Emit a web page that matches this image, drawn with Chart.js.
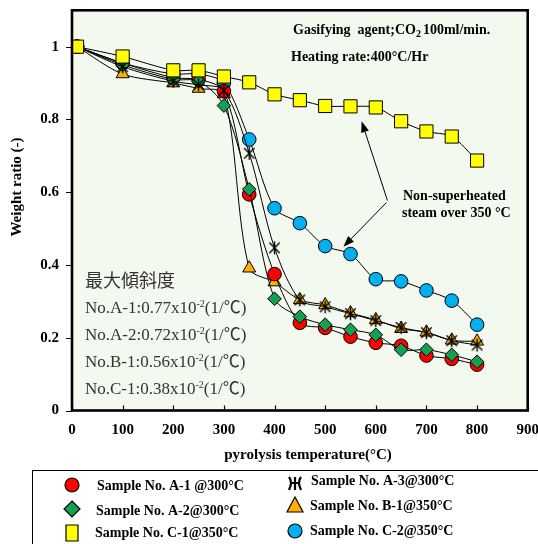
<!DOCTYPE html>
<html>
<head>
<meta charset="utf-8">
<script src="https://cdn.jsdelivr.net/npm/chart.js@4/dist/chart.umd.min.js"></script>
<style>
  html, body { margin: 0; padding: 0; background: #fff; }
  #wrap { width: 538px; height: 544px; position: relative; }
</style>
</head>
<body>
<div id="wrap"><canvas id="c" width="538" height="544"></canvas></div>
<script>
// Pyrolysis temperature (°C)
const temperatures = [10, 100, 200, 250, 300, 350, 400, 450, 500, 550, 600, 650, 700, 750, 800];

// Weight ratio (-) per sample
const sampleA1 = [1.0, 0.955, 0.915, 0.91, 0.878, 0.594, 0.375, 0.241, 0.227, 0.203, 0.186, 0.178, 0.151, 0.142, 0.126];
const sampleA2 = [1.0, 0.95, 0.91, 0.905, 0.838, 0.608, 0.307, 0.258, 0.236, 0.222, 0.208, 0.167, 0.167, 0.153, 0.134];
const sampleA3 = [1.0, 0.945, 0.905, 0.895, 0.88, 0.707, 0.447, 0.304, 0.285, 0.266, 0.247, 0.228, 0.214, 0.192, 0.18];
const sampleB1 = [1.0, 0.925, 0.9, 0.885, 0.87, 0.391, 0.353, 0.304, 0.29, 0.268, 0.249, 0.225, 0.215, 0.193, 0.19];
const sampleC1 = [1.0, 0.973, 0.935, 0.935, 0.918, 0.902, 0.869, 0.853, 0.837, 0.836, 0.833, 0.795, 0.767, 0.753, 0.687];
const sampleC2 = [1.0, 0.955, 0.925, 0.925, 0.9, 0.745, 0.556, 0.515, 0.452, 0.43, 0.361, 0.355, 0.33, 0.302, 0.236];

const seriesNames = [
  'Sample No. A-1 @300°C', 'Sample No. A-2@300°C', 'Sample No. C-1@350°C',
  'Sample No. A-3@300°C', 'Sample No. B-1@350°C', 'Sample No. C-2@350°C'
];

const xTicks = [0, 100, 200, 300, 400, 500, 600, 700, 800, 900];
const yTicks = [0, 0.2, 0.4, 0.6, 0.8, 1];

const slopeTitle = '最大傾斜度';
const slopeRows = [
  ['No.A-1:0.77x10', '-2', '(1/℃)'],
  ['No.A-2:0.72x10', '-2', '(1/℃)'],
  ['No.B-1:0.56x10', '-2', '(1/℃)'],
  ['No.C-1:0.38x10', '-2', '(1/℃)']
];

const SERIF = '"Liberation Serif", "Times New Roman", "Noto Sans CJK JP", serif';

// Asterisk-like marker (vertical bar with a cross) used for A-3
function makeStarMarker(size) {
  const cv = document.createElement('canvas');
  cv.width = size; cv.height = size;
  const g = cv.getContext('2d');
  g.strokeStyle = '#000';
  g.lineWidth = 1.4;
  const m = size / 2, r = size / 2 - 1;
  g.beginPath();
  g.moveTo(m, m - r); g.lineTo(m, m + r);
  g.moveTo(m - r * 0.8, m - r * 0.8); g.lineTo(m + r * 0.8, m + r * 0.8);
  g.moveTo(m + r * 0.8, m - r * 0.8); g.lineTo(m - r * 0.8, m + r * 0.8);
  g.stroke();
  return cv;
}
const starMarker = makeStarMarker(15);

function toPoints(values) {
  return values.map((v, i) => ({ x: temperatures[i], y: v }));
}

function series(label, values, style, fill, radius, order) {
  return {
    label,
    data: toPoints(values),
    borderColor: '#000',
    borderWidth: 1,
    pointStyle: style,
    pointRadius: radius,
    pointBackgroundColor: fill,
    pointBorderColor: '#000',
    pointBorderWidth: 1,
    tension: 0.3,
    order
  };
}

const datasets = [
  series(seriesNames[2], sampleC1, 'rect', '#FFFF00', 9.3, 0),
  series(seriesNames[3], sampleA3, starMarker, '#000', 7, 1),
  series(seriesNames[1], sampleA2, 'rectRot', '#14A050', 6.8, 2),
  series(seriesNames[0], sampleA1, 'circle', '#FF0000', 6.8, 3),
  series(seriesNames[5], sampleC2, 'circle', '#00B0F0', 6.8, 4),
  series(seriesNames[4], sampleB1, 'triangle', '#FFB000', 7.5, 5)
];

function drawArrow(ctx, x0, y0, x1, y1) {
  const ang = Math.atan2(y1 - y0, x1 - x0);
  const len = 11, half = 4;
  const bx = x1 - len * Math.cos(ang), by = y1 - len * Math.sin(ang);
  ctx.beginPath();
  ctx.moveTo(x0, y0);
  ctx.lineTo(bx, by);
  ctx.stroke();
  ctx.beginPath();
  ctx.moveTo(x1, y1);
  ctx.lineTo(bx + half * Math.sin(ang), by - half * Math.cos(ang));
  ctx.lineTo(bx - half * Math.sin(ang), by + half * Math.cos(ang));
  ctx.closePath();
  ctx.fill();
}

function drawMarker(ctx, style, fill, x, y) {
  ctx.save();
  ctx.fillStyle = fill;
  ctx.strokeStyle = '#000';
  ctx.lineWidth = 1.2;
  ctx.beginPath();
  if (style === 'circle') {
    ctx.arc(x, y, 7, 0, Math.PI * 2);
  } else if (style === 'diamond') {
    ctx.moveTo(x, y - 8); ctx.lineTo(x + 8, y); ctx.lineTo(x, y + 8); ctx.lineTo(x - 8, y); ctx.closePath();
  } else if (style === 'square') {
    ctx.rect(x - 6, y - 8, 12, 16);
  } else if (style === 'triangle') {
    ctx.moveTo(x, y - 8); ctx.lineTo(x + 8, y + 7); ctx.lineTo(x - 8, y + 7); ctx.closePath();
  }
  if (style === 'star') {
    ctx.lineWidth = 2.2;
    ctx.moveTo(x, y - 6); ctx.lineTo(x, y + 7);
    ctx.moveTo(x - 6, y - 6); ctx.quadraticCurveTo(x - 2, y - 1, x - 6, y + 7);
    ctx.moveTo(x + 6, y - 6); ctx.quadraticCurveTo(x + 2, y - 1, x + 6, y + 7);
    ctx.moveTo(x - 5, y); ctx.lineTo(x + 5, y);
    ctx.stroke();
  } else {
    ctx.fill();
    ctx.stroke();
  }
  ctx.restore();
}

const decorations = {
  id: 'decorations',
  beforeDraw(chart) {
    const { ctx, chartArea: a } = chart;
    ctx.save();
    ctx.fillStyle = '#F4F9EF';
    ctx.fillRect(a.left, a.top, a.right - a.left, a.bottom - a.top);
    ctx.restore();
  },
  afterDraw(chart) {
    const { ctx, chartArea: a, scales } = chart;
    const xs = scales.x, ys = scales.y;
    ctx.save();

    // tick marks: y outward, x inward
    ctx.strokeStyle = '#000';
    ctx.lineWidth = 1.2;
    ctx.beginPath();
    yTicks.forEach(v => {
      const py = Math.round(ys.getPixelForValue(v)) + 0.5;
      ctx.moveTo(a.left - 6, py); ctx.lineTo(a.left, py);
    });
    xTicks.forEach(v => {
      const px = Math.round(xs.getPixelForValue(v)) + 0.5;
      ctx.moveTo(px, a.bottom); ctx.lineTo(px, a.bottom - 5);
    });
    ctx.stroke();

    // plot frame
    ctx.lineWidth = 2.6;
    ctx.strokeRect(a.left, a.top, a.right - a.left, a.bottom - a.top);

    // axis titles
    ctx.fillStyle = '#000';
    ctx.font = 'bold 15px ' + SERIF;
    ctx.textAlign = 'center';
    ctx.textBaseline = 'middle';
    ctx.fillText('pyrolysis temperature(°C)', 308, 455);
    ctx.save();
    ctx.translate(17, 187);
    ctx.rotate(-Math.PI / 2);
    ctx.fillText('Weight ratio (-)', 0, 0);
    ctx.restore();

    // conditions
    ctx.textAlign = 'left';
    ctx.font = 'bold 14px ' + SERIF;
    let tx = 293;
    const t1 = 'Gasifying  agent;CO';
    ctx.fillText(t1, tx, 30);
    tx += ctx.measureText(t1).width;
    ctx.font = 'bold 10px ' + SERIF;
    ctx.fillText('2', tx, 34);
    tx += ctx.measureText('2').width + 2;
    ctx.font = 'bold 14px ' + SERIF;
    ctx.fillText('100ml/min.', tx, 30);
    ctx.fillText('Heating rate:400°C/Hr', 291, 57);
    ctx.fillText('Non-superheated', 403, 196);
    ctx.fillText('steam over 350 °C', 402, 213);

    // arrows towards the C-1 and C-2 curves
    const ox = xs.getPixelForValue(623), oy = ys.getPixelForValue(0.577);
    ctx.lineWidth = 1;
    drawArrow(ctx, ox, oy, xs.getPixelForValue(572), ys.getPixelForValue(0.795));
    drawArrow(ctx, ox - 1, oy + 2, xs.getPixelForValue(536), ys.getPixelForValue(0.45));

    // maximum slope list
    ctx.fillStyle = '#333';
    ctx.font = '18px ' + SERIF;
    ctx.fillText(slopeTitle, 85, 282);
    slopeRows.forEach((row, i) => {
      const y = 309 + i * 27;
      let x = 85;
      ctx.font = '17px ' + SERIF;
      ctx.fillText(row[0], x, y);
      x += ctx.measureText(row[0]).width;
      ctx.font = '10px ' + SERIF;
      ctx.fillText(row[1], x, y - 5);
      x += ctx.measureText(row[1]).width;
      ctx.font = '17px ' + SERIF;
      ctx.fillText(row[2], x, y);
    });

    // legend box
    ctx.strokeStyle = '#000';
    ctx.lineWidth = 1;
    ctx.strokeRect(32.5, 470.5, 540, 100);
    const legendItems = [
      ['circle', '#FF0000', 72, 485, 97, 486, seriesNames[0]],
      ['diamond', '#14A050', 72, 509, 96, 511, seriesNames[1]],
      ['square', '#FFFF00', 72, 533, 95, 533, seriesNames[2]],
      ['star', '#000', 295, 483, 311, 481, seriesNames[3]],
      ['triangle', '#FFB000', 295, 505, 310, 506, seriesNames[4]],
      ['circle', '#00B0F0', 295, 531, 310, 531, seriesNames[5]]
    ];
    ctx.fillStyle = '#000';
    ctx.font = 'bold 14px ' + SERIF;
    legendItems.forEach(it => {
      drawMarker(ctx, it[0], it[1], it[2], it[3]);
      ctx.fillStyle = '#000';
      ctx.fillText(it[6], it[4], it[5]);
    });

    ctx.restore();
  }
};

new Chart(document.getElementById('c'), {
  type: 'line',
  data: { datasets },
  options: {
    responsive: false,
    animation: false,
    events: [],
    layout: { padding: { left: 0, right: 7, top: 10, bottom: 88 } },
    plugins: { legend: { display: false }, tooltip: { enabled: false } },
    scales: {
      x: {
        type: 'linear',
        min: 0, max: 900,
        grid: { display: false, drawTicks: false },
        border: { display: false },
        afterBuildTicks(scale) { scale.ticks = xTicks.map(v => ({ value: v })); },
        afterFit(scale) { scale.height = 45.5; scale.paddingLeft = 0; scale.paddingRight = 0; },
        ticks: {
          color: '#000',
          padding: 11,
          maxRotation: 0,
          autoSkip: false,
          font: { family: SERIF, size: 15, weight: 'bold' }
        }
      },
      y: {
        type: 'linear',
        min: 0, max: 1.1,
        grid: { display: false, drawTicks: false },
        border: { display: false },
        afterBuildTicks(scale) { scale.ticks = yTicks.map(v => ({ value: v })); },
        afterFit(scale) { scale.width = 72; scale.paddingTop = 0; scale.paddingBottom = 0; },
        ticks: {
          color: '#000',
          padding: 13,
          autoSkip: false,
          callback: v => String(Math.round(v * 10) / 10),
          font: { family: SERIF, size: 15, weight: 'bold' }
        }
      }
    }
  },
  plugins: [decorations]
});
</script>
</body>
</html>
